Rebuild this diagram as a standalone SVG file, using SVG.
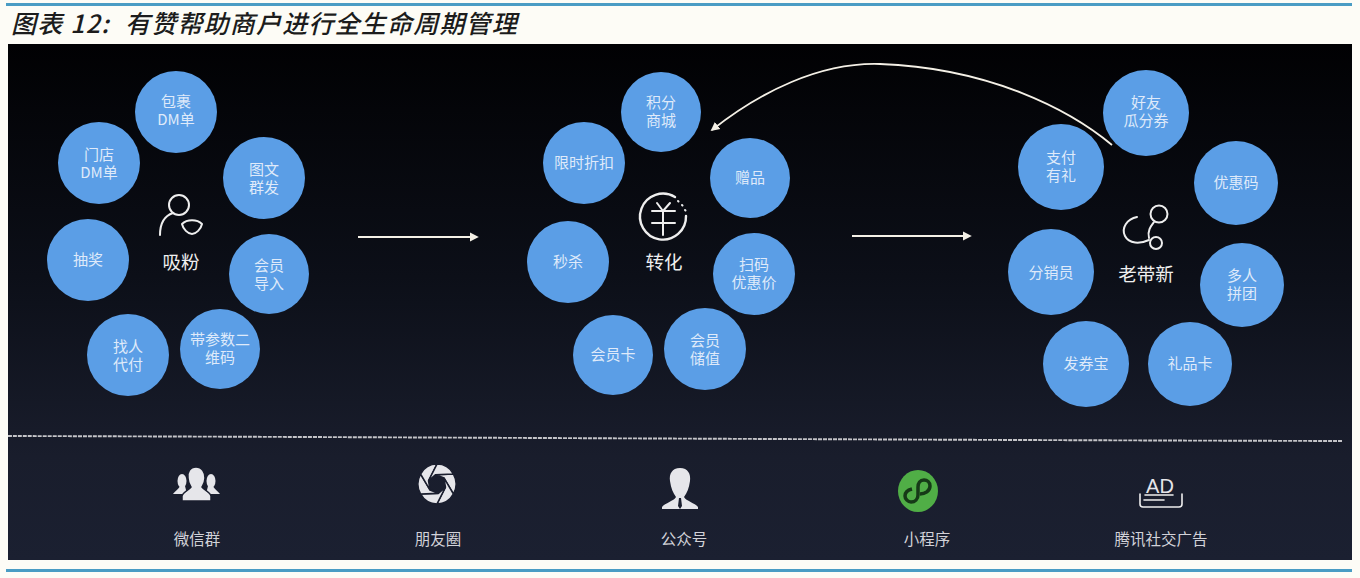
<svg xmlns="http://www.w3.org/2000/svg" width="1360" height="578" viewBox="0 0 1360 578">
<style>
text{font-family:"Noto Sans CJK SC","Liberation Sans",sans-serif}
.b{fill:#5b9ee6}
.t{fill:#dfeafa;font-size:15px;text-anchor:middle}
.c{fill:#efefef;font-size:18.500px;text-anchor:middle}
.l{fill:#d2d2d8;font-size:15.500px;text-anchor:middle}
.i{fill:none;stroke:#eeeeee;stroke-width:2;stroke-linecap:round;stroke-linejoin:round}
.s{fill:#e6e6ea}
.a{fill:none;stroke:#f4f0e6;stroke-width:1.800}
</style>
<defs>
<linearGradient id="bg" x1="0" y1="0" x2="0" y2="1"><stop offset="0" stop-color="#010103"/><stop offset="0.45" stop-color="#0c0f18"/><stop offset="0.8" stop-color="#191d2c"/><stop offset="1" stop-color="#1b2031"/></linearGradient>
<marker id="ah" markerWidth="6" markerHeight="6" refX="4" refY="3" orient="auto"><path d="M0,0.500L5,3L0,5.500z" fill="#f4f0e6"/></marker>
<path id="blade" d="M16.450,-9.500A19,19 0 0 1 16.450,9.500L6.900,-5.800L-1.600,-8.900z" fill="#e6e6ea" stroke="#1a1e2e" stroke-width="1.500"/>
</defs>
<rect width="1360" height="578" fill="#fdfcf6"/>
<rect x="6" y="3" width="1346" height="3" fill="#4a9cc4"/>
<text y="33" font-size="25" font-style="italic" font-weight="500" fill="#1c1c1c" letter-spacing="1.200"><tspan x="11">图表 12:</tspan><tspan x="125">有赞帮助商户进行全生命周期管理</tspan></text>
<rect x="8" y="44" width="1344" height="516" fill="url(#bg)"/>
<rect x="6" y="569" width="1346" height="3" fill="#4a9cc4"/>

<g id="connectors">
<path class="a" d="M358,237H477" marker-end="url(#ah)"/>
<path class="a" d="M852,236H970" marker-end="url(#ah)"/>
<path class="a" d="M1112,145C1070,110 990,68 880,64C820,62 760,92 712,130" marker-end="url(#ah)"/>
<path d="M8,436C400,437 900,440 1343,441" fill="none" stroke="#c4c4c8" stroke-width="1.900" stroke-dasharray="4 1"/>
</g>

<g id="n1"><circle class="b" cx="176" cy="112" r="41"/><text class="t" x="176" y="107"><tspan x="176">包裹</tspan><tspan x="176" dy="18">DM单</tspan></text></g>
<g id="n2"><circle class="b" cx="99" cy="163" r="41"/><text class="t" x="99" y="160"><tspan x="99">门店</tspan><tspan x="99" dy="18">DM单</tspan></text></g>
<g id="n3"><circle class="b" cx="264" cy="178" r="41"/><text class="t" x="264" y="175"><tspan x="264">图文</tspan><tspan x="264" dy="18">群发</tspan></text></g>
<g id="n4"><circle class="b" cx="88" cy="260" r="41"/><text class="t" x="88" y="265">抽奖</text></g>
<g id="n5"><circle class="b" cx="269" cy="274" r="40"/><text class="t" x="269" y="271"><tspan x="269">会员</tspan><tspan x="269" dy="18">导入</tspan></text></g>
<g id="n6"><circle class="b" cx="128" cy="355" r="41"/><text class="t" x="128" y="352"><tspan x="128">找人</tspan><tspan x="128" dy="18">代付</tspan></text></g>
<g id="n7"><circle class="b" cx="220" cy="349" r="40"/><text class="t" x="220" y="345"><tspan x="220">带参数二</tspan><tspan x="220" dy="18">维码</tspan></text></g>
<g id="c1">
<circle class="i" cx="179" cy="205" r="10"/><path class="i" d="M160,235C160,223 164,216 173,213"/><path class="i" d="M182,224C187,219 197,219 202,224C201,229 196,234 192,234C188,234 183,229 182,224z"/>
<text class="c" x="181" y="269">吸粉</text></g>

<g id="n8"><circle class="b" cx="661" cy="112" r="40"/><text class="t" x="661" y="108"><tspan x="661">积分</tspan><tspan x="661" dy="18">商城</tspan></text></g>
<g id="n9"><circle class="b" cx="584" cy="163" r="41"/><text class="t" x="584" y="168">限时折扣</text></g>
<g id="n10"><circle class="b" cx="750" cy="178" r="40"/><text class="t" x="750" y="183">赠品</text></g>
<g id="n11"><circle class="b" cx="568" cy="262" r="41"/><text class="t" x="568" y="267">秒杀</text></g>
<g id="n12"><circle class="b" cx="754" cy="274" r="41"/><text class="t" x="754" y="270"><tspan x="754">扫码</tspan><tspan x="754" dy="18">优惠价</tspan></text></g>
<g id="n13"><circle class="b" cx="613" cy="355" r="40"/><text class="t" x="613" y="360">会员卡</text></g>
<g id="n14"><circle class="b" cx="705" cy="349" r="41"/><text class="t" x="705" y="346"><tspan x="705">会员</tspan><tspan x="705" dy="18">储值</tspan></text></g>
<g id="c2">
<path class="i" d="M675,197A23,23 0 1 0 686,216" style="stroke-width:2.400"/><path class="i" d="M678,201l.5,.5M682,205l.5,.5M685,210l.5,.5"/>
<path class="i" d="M657,203L663,211L670,203M652,211H675M652,223H675M663,211V235"/>
<text class="c" x="664" y="269">转化</text></g>

<g id="n15"><circle class="b" cx="1146" cy="113" r="43"/><text class="t" x="1146" y="108"><tspan x="1146">好友</tspan><tspan x="1146" dy="18">瓜分券</tspan></text></g>
<g id="n16"><circle class="b" cx="1061" cy="167" r="43"/><text class="t" x="1061" y="163"><tspan x="1061">支付</tspan><tspan x="1061" dy="18">有礼</tspan></text></g>
<g id="n17"><circle class="b" cx="1236" cy="183" r="42"/><text class="t" x="1236" y="188">优惠码</text></g>
<g id="n18"><circle class="b" cx="1051" cy="272" r="43"/><text class="t" x="1051" y="278">分销员</text></g>
<g id="n19"><circle class="b" cx="1242" cy="285" r="42"/><text class="t" x="1242" y="281"><tspan x="1242">多人</tspan><tspan x="1242" dy="18">拼团</tspan></text></g>
<g id="n20"><circle class="b" cx="1086" cy="364" r="43"/><text class="t" x="1086" y="369">发券宝</text></g>
<g id="n21"><circle class="b" cx="1190" cy="364" r="42"/><text class="t" x="1190" y="369">礼品卡</text></g>
<g id="c3">
<circle class="i" cx="1159" cy="214" r="8.500"/><circle class="i" cx="1156" cy="243" r="6"/>
<path class="i" d="M1137,217C1127,219 1121,228 1125,236C1129,244 1140,244 1149,240M1149,238C1147,231 1151,226 1154,222"/>
<text class="c" x="1146" y="281">老带新</text></g>

<g id="e1">
<ellipse class="s" cx="182" cy="481" rx="4.500" ry="7"/><path class="s" d="M173,494C175,491 179,489 180,486H185L187,494z"/>
<ellipse class="s" cx="211" cy="481" rx="4.500" ry="7"/><path class="s" d="M220,494C218,491 214,489 213,486H208L206,494z"/>
<path class="s" stroke="#1a1e2e" stroke-width="1.500" d="M196,467C190,467 187,472 188,478C188,482 190,485 191,487C189,490 183,492 182,496V501H211V496C210,492 204,490 202,487C203,485 205,482 205,478C205,472 202,467 196,467z"/>
<text class="l" x="197" y="545">微信群</text></g>
<g id="e2"><g transform="translate(437,484) scale(1,1.050)"><use href="#blade"/><use href="#blade" transform="rotate(60)"/><use href="#blade" transform="rotate(120)"/><use href="#blade" transform="rotate(180)"/><use href="#blade" transform="rotate(240)"/><use href="#blade" transform="rotate(300)"/></g><text class="l" x="438" y="545">朋友圈</text></g>
<g id="e3"><path class="s" d="M680,468C672,468 669,474 670,481C671,488 673,493 676,497C674,501 665,503 662,507V509H698V507C695,503 686,501 684,497C687,493 689,488 690,481C691,474 688,468 680,468z"/><path d="M679,498H681L682,506L680,509L678,506z" fill="#1a1e2e"/><text class="l" x="684" y="545">公众号</text></g>
<g id="e4"><ellipse cx="918" cy="491" rx="20" ry="21" fill="#50ae46"/><path d="M920,494C925,494 930,491 930,486C930,482 927,480 924,480C920,480 918,483 918,487V495C918,499 915,502 911,502C908,502 905,499 905,496C905,492 908,490 912,489" fill="none" stroke="#163a17" stroke-width="3.500"/><text class="l" x="927" y="545">小程序</text></g>
<g id="e5"><text x="1160" y="493" fill="#e6e6ea" font-size="20" text-anchor="middle" style="font-family:'Liberation Sans',sans-serif">AD</text><path class="i" d="M1145,495H1173M1144,500H1164" style="stroke-width:1.600"/><path class="i" d="M1140,494V504Q1140,507 1143,507H1179Q1182,507 1182,504V494" style="stroke-width:1.600"/><text class="l" x="1161" y="545">腾讯社交广告</text></g>
</svg>
